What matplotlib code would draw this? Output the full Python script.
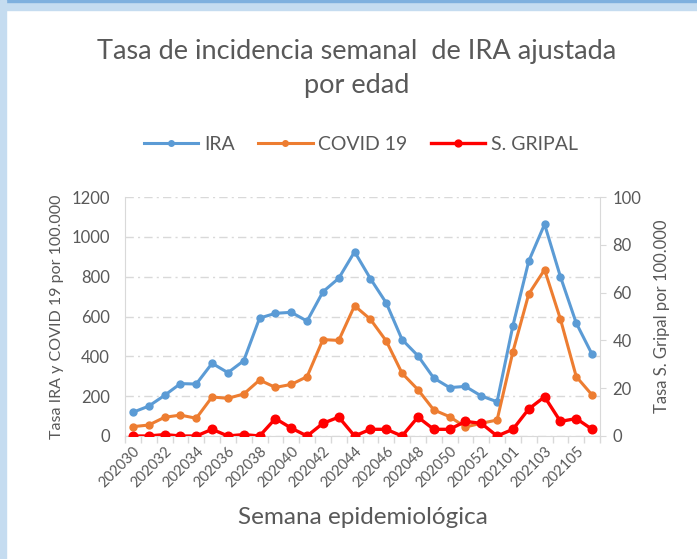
import numpy as np
import matplotlib
matplotlib.use("Agg")
import matplotlib.pyplot as plt
from matplotlib.patches import Rectangle

# Semanas epidemiológicas
semanas = [str(202000 + w) for w in range(30, 54)] + [str(202100 + w) for w in range(1, 7)]

# Tasas por 100.000
ira = [119, 150, 204, 263, 261, 365, 318, 378, 592, 616, 621, 577, 724, 792, 925,
       790, 668, 484, 403, 291, 243, 249, 201, 172, 554, 878, 1063, 800, 567, 410]
covid = [47, 55, 94, 105, 89, 196, 189, 211, 281, 244, 259, 298, 484, 480, 654,
         586, 477, 315, 233, 131, 97, 45, 64, 80, 423, 713, 835, 587, 298, 206]
gripal = [0, 0, 0.6, 0, 0, 2.8, 0, 0.6, 0, 7.3, 3.3, 0, 5.3, 7.9, 0,
          2.8, 2.8, 0, 7.9, 2.8, 2.8, 6.1, 5.3, 0, 2.8, 11.3, 16.4, 6.1, 7.3, 2.8]

plt.rcParams['font.family'] = ['Lato', 'DejaVu Sans']
gris = '#595959'
gris_lin = '#D9D9D9'

fig = plt.figure(figsize=(6.97, 5.59), dpi=100)
# marco azul claro (arriba e izquierda)
fig.patches.append(Rectangle((0, 1 - 10 / 559), 1, 10 / 559, transform=fig.transFigure,
                             color='#C5DCF0', zorder=0))
fig.patches.append(Rectangle((0, 1 - 1.5 / 559), 1, 1.5 / 559, transform=fig.transFigure,
                             color='#7FB0DE', zorder=0))
fig.patches.append(Rectangle((0, 0), 6 / 697, 1, transform=fig.transFigure,
                             color='#C5DCF0', zorder=0))

ax = fig.add_axes([125 / 697, 1 - 436 / 559, 475 / 697, 239 / 559])
ax2 = ax.twinx()

x = np.arange(len(semanas))
ax.plot(x, ira, color='#5B9BD5', lw=2.2, marker='o', ms=5, label='IRA', zorder=3)
ax.plot(x, covid, color='#ED7D31', lw=2.2, marker='o', ms=5, label='COVID 19', zorder=3)
ax2.plot(x, gripal, color='#FF0000', lw=2.4, marker='o', ms=6.2, label='S. GRIPAL', zorder=3)

ax.set_xlim(-0.5, len(semanas) - 0.5)
ax.set_ylim(0, 1200)
ax2.set_ylim(0, 100)
ax.set_yticks(range(0, 1201, 200))
ax2.set_yticks(range(0, 101, 20))

ax.grid(axis='y', color=gris_lin, lw=1, linestyle=(0, (6, 3, 1.5, 3)))
ax.set_axisbelow(True)

ax.set_xticks(x[::2])
ax.set_xticklabels(semanas[::2], rotation=45, ha='right', rotation_mode='anchor')
ax.set_xticks(np.arange(-0.5, len(semanas), 1), minor=True)
ax.tick_params(axis='x', which='major', length=0, pad=6, labelsize=10.5, labelcolor=gris)
ax.tick_params(axis='x', which='minor', length=5, color=gris_lin, width=1)
ax.tick_params(axis='y', length=0, labelsize=12, labelcolor=gris, pad=11)
ax2.tick_params(axis='y', length=4, color=gris_lin, labelsize=12, labelcolor=gris, pad=5)

for a in (ax, ax2):
    for s in a.spines.values():
        s.set_color(gris_lin)
    a.spines['top'].set_visible(False)
ax.spines['right'].set_visible(False)
ax2.spines['left'].set_visible(False)
ax2.spines['bottom'].set_visible(False)

ax.set_ylabel('Tasa IRA y COVID 19 por 100.000', fontsize=11.5, color=gris, labelpad=5)
ax2.set_ylabel('Tasa S. Gripal por 100.000', fontsize=12, color=gris, labelpad=9)
ax.set_xlabel('Semana epidemiológica', fontsize=17.5, color=gris, labelpad=12)

fig.text(0.512, 1 - 69 / 559, 'Tasa de incidencia semanal  de IRA ajustada\npor edad',
         ha='center', va='center', fontsize=19.5, color=gris, linespacing=1.45)

h1, l1 = ax.get_legend_handles_labels()
h2, l2 = ax2.get_legend_handles_labels()
fig.legend(h1 + h2, l1 + l2, loc='center', bbox_to_anchor=(0.518, 1 - 144 / 559), ncol=3,
           frameon=False, fontsize=14, labelcolor=gris, handlelength=2.8,
           columnspacing=1.2, handletextpad=0.3, markerscale=0.8)

fig.savefig('out.png', dpi=100)
